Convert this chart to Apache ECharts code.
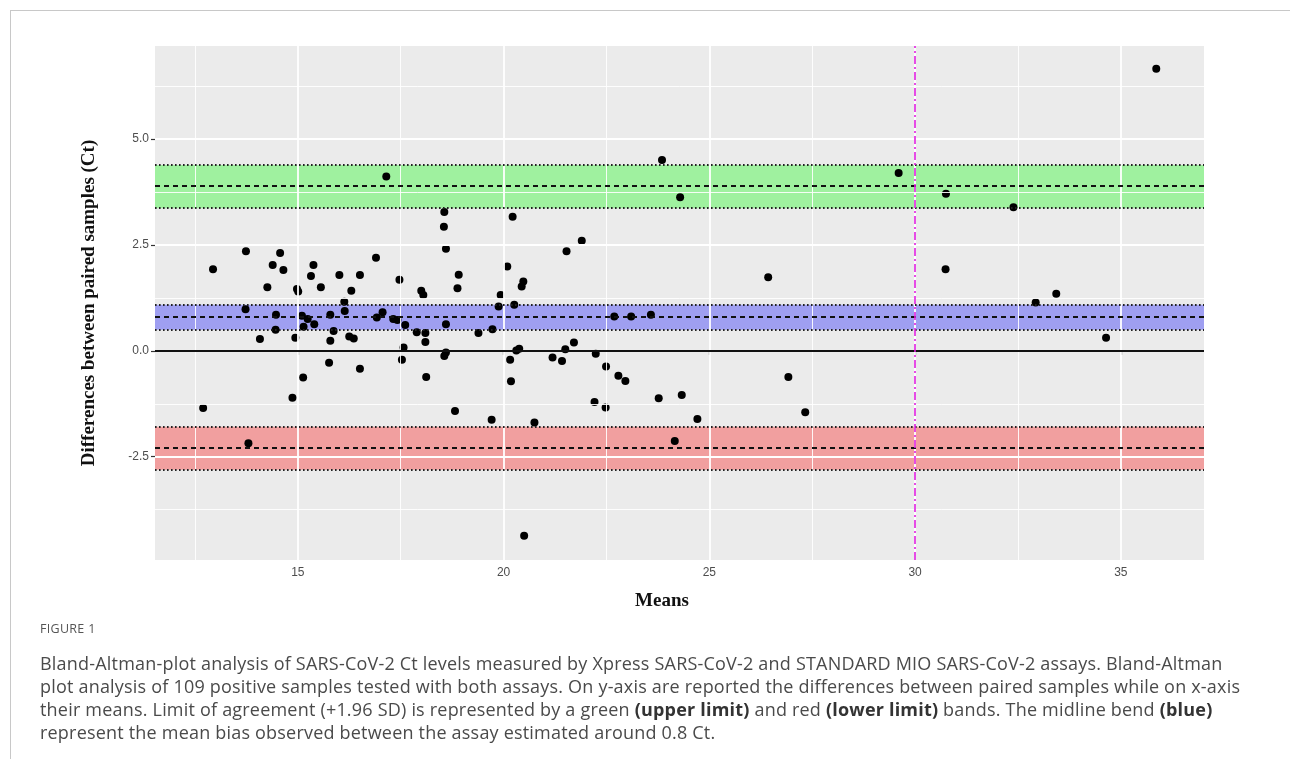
<!DOCTYPE html>
<html>
<head>
<meta charset="utf-8">
<script src="https://cdn.jsdelivr.net/npm/echarts@6/dist/echarts.min.js"></script>
<style>
  html, body { margin: 0; padding: 0; background: #fff; }
  #wrap { position: relative; width: 1290px; height: 765px; overflow: hidden; }
  #chart { position: absolute; left: 0; top: 0; width: 1290px; height: 765px; }
  #frame { position: absolute; left: 10px; top: 10px; width: 1290px; height: 748px;
           border-top: 1px solid #c8c8c8; border-left: 1px solid #c8c8c8; pointer-events: none; }
  .cap { position: absolute; left: 40px; font-family: "Open Sans", "Noto Sans", sans-serif;
         color: #4a4a4a; white-space: nowrap; }
  .figlab { font-size: 12.5px; letter-spacing: 0.3px; color: #555; }
  .capline { font-size: 18px; line-height: 23px; letter-spacing: 0.2px; }
  .capline b { font-weight: 700; color: #333; }
</style>
</head>
<body>
<div id="wrap">
  <div id="chart"></div>
  <div id="frame"></div>
  <div class="cap figlab" style="top:620px;">FIGURE 1</div>
  <div class="cap capline" style="top:652px;">Bland-Altman-plot analysis of SARS-CoV-2 Ct levels measured by Xpress SARS-CoV-2 and STANDARD MIO SARS-CoV-2 assays. Bland-Altman<br>plot analysis of 109 positive samples tested with both assays. On y-axis are reported the differences between paired samples while on x-axis<br>their means. Limit of agreement (+1.96 SD) is represented by a green <b>(upper limit)</b> and red <b>(lower limit)</b> bands. The midline bend <b>(blue)</b><br>represent the mean bias observed between the assay estimated around 0.8 Ct.</div>
</div>
<script>
// ---- data ----
const meanVals = [
  12.70, 12.94, 13.74, 13.73, 13.80, 14.08, 14.26, 14.39, 14.57, 14.65,
  14.47, 14.46, 14.87, 14.94, 14.98, 15.01, 15.10, 15.14, 15.13, 15.24,
  15.40, 15.32, 15.38, 15.56, 15.76, 15.79, 15.79, 15.87, 16.01, 16.13,
  16.14, 16.30, 16.25, 16.36, 16.51, 16.51, 16.90, 16.92, 17.06, 17.15,
  17.32, 17.42, 17.47, 17.57, 17.53, 17.61, 17.89, 18.00, 18.05, 18.10,
  18.10, 18.12, 18.56, 18.55, 18.60, 18.60, 18.56, 18.60, 18.91, 18.88,
  18.82, 19.39, 19.73, 19.71, 19.93, 19.88, 20.09, 20.22, 20.26, 20.16,
  20.18, 20.31, 20.38, 20.50, 20.48, 20.44, 20.75, 21.19, 21.42, 21.50,
  21.53, 21.71, 21.90, 22.24, 22.21, 22.49, 22.48, 22.69, 22.79, 22.96,
  23.10, 23.58, 23.85, 23.77, 24.16, 24.29, 24.33, 24.71, 26.43, 26.92,
  27.33, 29.60, 30.75, 30.74, 32.39, 32.93, 33.43, 34.64, 35.86
];
const diffVals = [
  -1.35, 1.93, 2.35, 0.98, -2.18, 0.28, 1.50, 2.03, 2.31, 1.91,
  0.85, 0.50, -1.11, 0.31, 1.46, 1.40, 0.83, 0.57, -0.63, 0.75,
  0.63, 1.77, 2.03, 1.50, -0.28, 0.85, 0.24, 0.47, 1.79, 1.16,
  0.94, 1.42, 0.34, 0.29, 1.79, -0.42, 2.20, 0.79, 0.91, 4.12,
  0.75, 0.73, 1.68, 0.08, -0.21, 0.61, 0.44, 1.42, 1.32, 0.42,
  0.21, -0.62, 3.28, 2.93, 2.41, 0.63, -0.12, -0.04, 1.80, 1.48,
  -1.42, 0.42, 0.51, -1.63, 1.32, 1.05, 1.99, 3.17, 1.09, -0.21,
  -0.72, 0.01, 0.05, -4.37, 1.64, 1.52, -1.69, -0.16, -0.24, 0.04,
  2.35, 0.20, 2.60, -0.07, -1.21, -0.37, -1.34, 0.81, -0.59, -0.71,
  0.81, 0.85, 4.51, -1.12, -2.13, 3.63, -1.04, -1.61, 1.74, -0.62,
  -1.45, 4.20, 3.71, 1.93, 3.39, 1.14, 1.35, 0.31, 6.66
];
// bands: [lower CI, estimate, upper CI]
const upperLoA = [3.37, 3.90, 4.39];
const meanBias = [0.50, 0.80, 1.09];
const lowerLoA = [-2.81, -2.30, -1.79];
const zeroLine = [0];
const cutoffX = [30];
const xTicks = [15, 20, 25, 30, 35];
const xMinor = [12.5, 17.5, 22.5, 27.5, 32.5];
const yTicks = [-2.5, 0, 2.5, 5];
const yMinor = [-3.75, -1.25, 1.25, 3.75, 6.25];
const xTitle = 'Means';
const yTitle = 'Differences between paired samples (Ct)';

// ---- chart ----
const chart = echarts.init(document.getElementById('chart'), null, { renderer: 'canvas' });

function hLines(vals, style) {
  return vals.map(v => ({ yAxis: v, lineStyle: style }));
}
function vLines(vals, style) {
  return vals.map(v => ({ xAxis: v, lineStyle: style }));
}
function emptySeries(z, extra) {
  return Object.assign({
    type: 'scatter', data: [], z: z, silent: true, animation: false
  }, extra);
}
const mlBase = { silent: true, symbol: ['none', 'none'], label: { show: false }, animation: false, emphasis: { disabled: true } };

const dash = [5, 4];
const dot = [1.6, 2.4];
const band = (arr, col) => ([
  { yAxis: arr[0], itemStyle: { color: col } }, { yAxis: arr[2] }
]);

const scatterData = meanVals.map((m, i) => [m, diffVals[i]]);

chart.setOption({
  animation: false,
  grid: { left: 155, right: 86, top: 46, bottom: 205, show: true,
          backgroundColor: '#EBEBEB', borderWidth: 0 },
  xAxis: {
    type: 'value', min: 11.53, max: 37.02,
    axisLine: { show: false },
    splitLine: { show: false },
    axisTick: { show: true, customValues: xTicks, length: 4, lineStyle: { color: '#333', width: 1.2 } },
    axisLabel: { customValues: xTicks, color: '#4D4D4D', fontSize: 12, margin: 7,
                 fontFamily: 'Liberation Sans, Arial, sans-serif' }
  },
  yAxis: {
    type: 'value', min: -4.94, max: 7.20,
    axisLine: { show: false },
    splitLine: { show: false },
    axisTick: { show: true, customValues: yTicks, length: 4, lineStyle: { color: '#333', width: 1.2 } },
    axisLabel: { customValues: yTicks, color: '#4D4D4D', fontSize: 12, margin: 6,
                 fontFamily: 'Liberation Sans, Arial, sans-serif',
                 formatter: v => v.toFixed(1) }
  },
  graphic: [
    { type: 'text', x: 89, y: 303, rotation: Math.PI / 2,
      style: { text: yTitle, font: 'bold 19px "Liberation Serif", "DejaVu Serif", serif',
               fill: '#111', align: 'center', verticalAlign: 'middle' } },
    { type: 'text', x: 662, y: 601,
      style: { text: xTitle, font: 'bold 19px "Liberation Serif", "DejaVu Serif", serif',
               fill: '#111', align: 'center', verticalAlign: 'middle' } }
  ],
  series: [
    emptySeries(1, { markLine: Object.assign({}, mlBase, {
      data: hLines(yMinor, { color: '#fff', width: 0.9, type: 'solid' })
            .concat(vLines(xMinor, { color: '#fff', width: 0.9, type: 'solid' }))
    }) }),
    emptySeries(1, { markLine: Object.assign({}, mlBase, {
      data: hLines(yTicks, { color: '#fff', width: 1.8, type: 'solid' })
            .concat(vLines(xTicks, { color: '#fff', width: 1.8, type: 'solid' }))
    }) }),
    {
      type: 'scatter', data: scatterData, z: 2, symbol: 'circle', symbolSize: 8,
      itemStyle: { color: '#000', opacity: 1 }, silent: true, animation: false
    },
    emptySeries(3, { markLine: Object.assign({}, mlBase, {
      data: hLines(zeroLine, { color: '#111', width: 1.8, type: 'solid' })
        .concat(hLines([upperLoA[1], meanBias[1], lowerLoA[1]], { color: '#111', width: 1.8, type: dash }))
        .concat(hLines([upperLoA[0], upperLoA[2], meanBias[0], meanBias[2], lowerLoA[0], lowerLoA[2]],
                       { color: '#222', width: 1.8, type: dot }))
    }) }),
    emptySeries(4, { markArea: { silent: true, animation: false, label: { show: false },
      data: [
        band(upperLoA, 'rgba(0,255,0,0.32)'),
        band(meanBias, 'rgba(0,0,255,0.32)'),
        band(lowerLoA, 'rgba(255,0,0,0.32)')
      ] } }),
    emptySeries(5, { markLine: Object.assign({}, mlBase, {
      data: vLines(cutoffX, { color: '#E020E0', width: 1.6, type: [8, 3, 2, 3] })
    }) })
  ]
});
</script>
</body>
</html>
